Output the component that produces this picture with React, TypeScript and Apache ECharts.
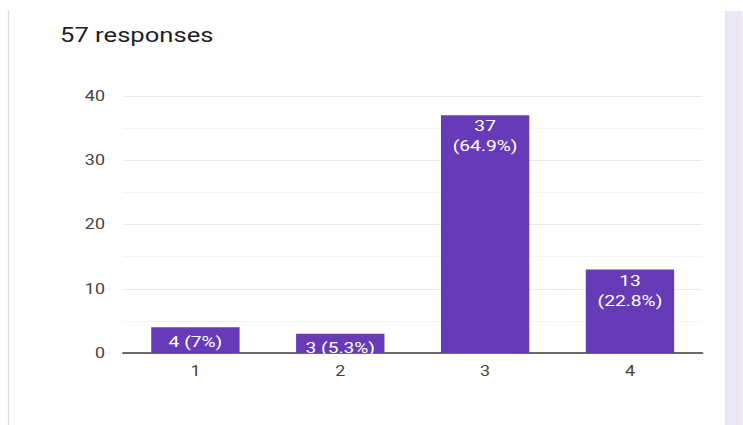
import React, { useEffect, useRef } from "react";
import * as echarts from "echarts";

const categories = ["1", "2", "3", "4"];
const counts = [4, 3, 37, 13];
const percents = ["7%", "5.3%", "64.9%", "22.8%"];
const yTicks = [0, 10, 20, 30, 40];
const title = "57 responses";

// The reference screenshot is horizontally stretched; reproduce with a CSS scaleX.
const SX = 1.28;
const W = 743 / SX;
const H = 425;

export default function App() {
  const ref = useRef<HTMLDivElement>(null);
  useEffect(() => {
    if (!ref.current) return;
    const chart = echarts.init(ref.current, null, { renderer: "svg" });
    const data = counts.map((c, i) => {
      const multi = c >= 10;
      return {
        value: c,
        label: {
          formatter: multi ? `${c}\n(${percents[i]})` : `${c} (${percents[i]})`,
          distance: multi ? 1 : 4,
        },
      };
    });
    chart.setOption({
      animation: false,
      backgroundColor: "#ffffff",
      textStyle: { fontFamily: "Roboto" },
      title: {
        text: title,
        left: 60 / SX - 5,
        top: 20,
        textStyle: { fontFamily: "Roboto", fontSize: 20, fontWeight: "normal", color: "#202124" },
      },
      graphic: [
        { type: "line", shape: { x1: 8.5 / SX, y1: 10, x2: 8.5 / SX, y2: H }, style: { stroke: "#dcdcdc", lineWidth: 1 }, silent: true },
        { type: "rect", shape: { x: 726 / SX, y: 11, width: 17 / SX + 1, height: H - 11 }, style: { fill: "#ebe7f5" }, silent: true },
        { type: "line", shape: { x1: 726 / SX, y1: 11, x2: 726 / SX, y2: H }, style: { stroke: "#e0dcec", lineWidth: 1 }, silent: true },
      ],
      grid: { left: 123 / SX, right: 40 / SX, top: 96, bottom: 72 },
      xAxis: {
        type: "category",
        data: categories,
        axisLine: { lineStyle: { color: "#3c3c3c", width: 1.5 } },
        axisTick: { show: false },
        axisLabel: { color: "#444444", fontSize: 14, margin: 11, fontFamily: "Roboto" },
      },
      yAxis: {
        type: "value",
        min: yTicks[0],
        max: yTicks[yTicks.length - 1],
        interval: yTicks[1] - yTicks[0],
        axisLine: { show: false },
        axisTick: { show: false },
        axisLabel: { color: "#444444", fontSize: 14, margin: 18 / SX, fontFamily: "Roboto" },
        splitLine: { lineStyle: { color: "#ebebeb", width: 1 } },
        minorTick: { show: false, splitNumber: 2 },
        minorSplitLine: { show: true, lineStyle: { color: "#f5f5f5", width: 1 } },
      },
      series: [
        {
          type: "bar",
          data,
          barWidth: "61%",
          itemStyle: { color: "#673ab7" },
          label: {
            show: true,
            position: "insideTop",
            color: "#ffffff",
            fontSize: 15,
            lineHeight: 20,
            fontFamily: "Roboto",
          },
        },
      ],
    });
    return () => chart.dispose();
  }, []);
  return (
    <div
      ref={ref}
      style={{
        position: "fixed",
        left: 0,
        top: 0,
        width: W,
        height: H,
        transform: `scaleX(${SX})`,
        transformOrigin: "0 0",
      }}
    />
  );
}
